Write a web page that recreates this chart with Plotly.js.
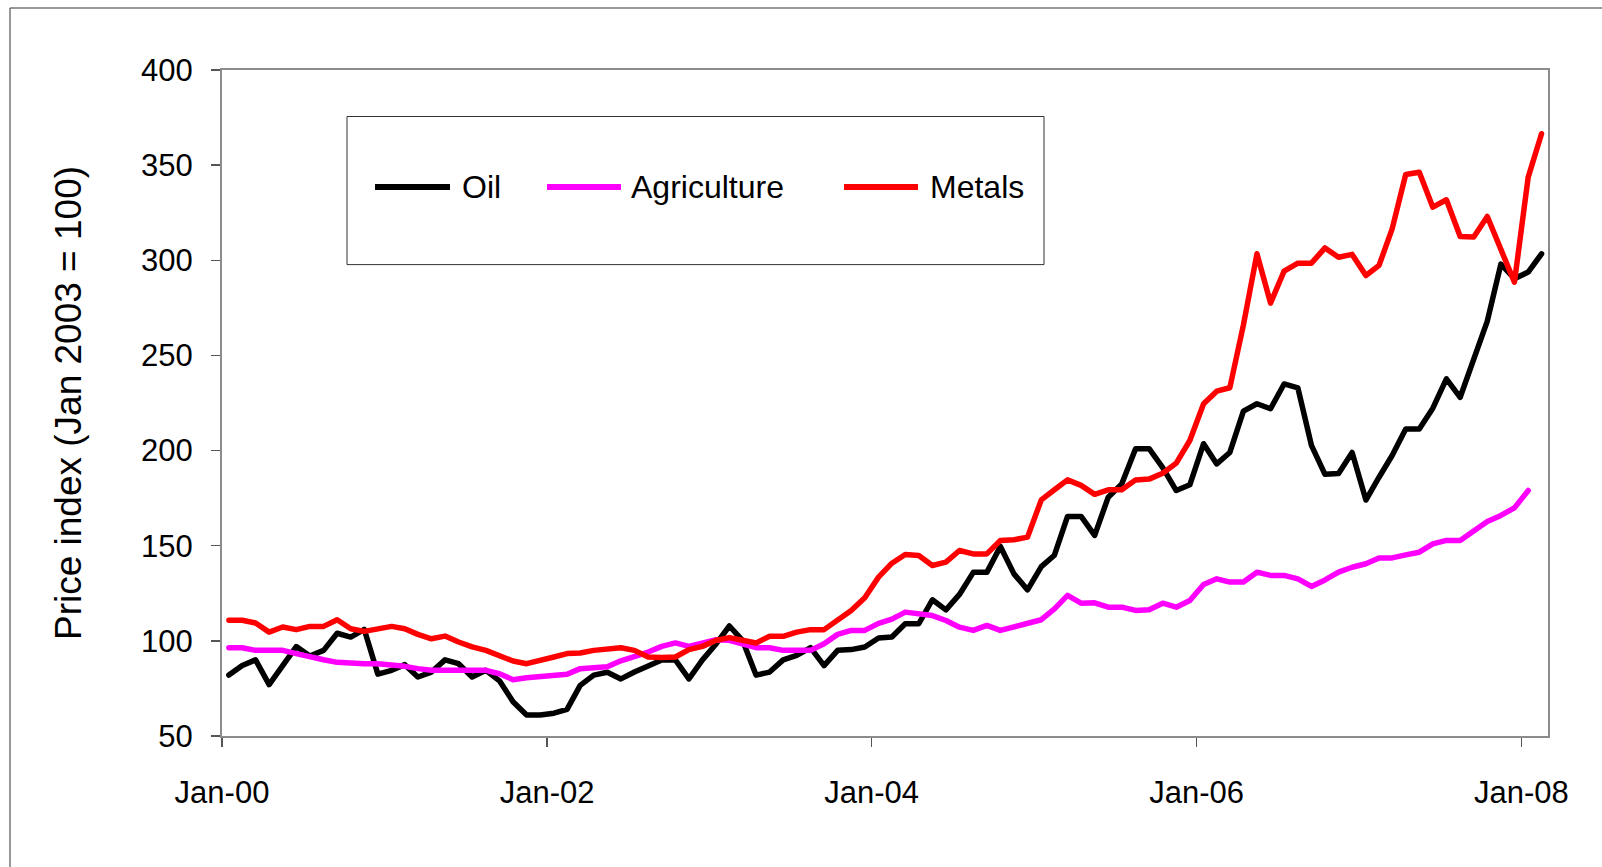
<!DOCTYPE html>
<html>
<head>
<meta charset="utf-8">
<script src="https://cdn.plot.ly/plotly-3.0.1.min.js"></script>
<style>
html,body{margin:0;padding:0;background:#fff;}
#chart{width:1602px;height:867px;}
.scatterlayer path.js-line{stroke-linejoin:round;stroke-linecap:round;}
</style>
</head>
<body>
<div id="chart"></div>
<script>
// Monthly series, Jan-2000 onward (price index, Jan 2003 = 100)
var startYear = 2000;
var seriesNames = ["Oil", "Agriculture", "Metals"];
var seriesColors = ["#000000", "#FF00FF", "#FF0000"];

var oil = [82, 87, 90, 77, 87, 97, 92, 95, 104, 102, 106, 82.5,
  84.5, 87.5, 81, 83.6, 90, 88, 81, 84.5, 79, 68, 61, 61,
  62, 64, 76.6, 82, 83.5, 80, 83.6, 87, 90, 90, 80, 90,
  98.5, 107.8, 100.3, 82, 83.6, 90, 92.4, 96.4, 87, 95, 95.4, 96.8,
  101.5, 102, 109, 109, 121.6, 116.3, 124.4, 136, 136, 149.6, 135.2, 126.8,
  139, 145, 165.4, 165.4, 155.4, 175.5, 182.5, 201, 201, 191, 179, 182,
  203.6, 193, 199, 220.7, 224.6, 222, 235, 233, 202.7, 187.5, 188, 199,
  174, 186, 197.4, 211.4, 211.4, 222.3, 237.7, 228, 249, 268, 298, 290.3,
  293.8, 303.4];

var agriculture = [96.4, 96.4, 95, 95, 95, 93.3, 91.5, 90.1, 88.7, 88, 88, 88,
  87.6, 86.6, 85.4, 84.5, 84.5, 84.5, 84.5, 84.5, 82.7, 79.6, 80.6, 81,
  81.9, 82.4, 85.4, 85.9, 86.4, 89.5, 91.5, 94.1, 97.1, 98.9, 97.1, 98.5,
  100.6, 100.3, 98.5, 96.4, 96.4, 95, 95, 95, 98.5, 103.4, 105.5, 105.5,
  109.2, 111.4, 115.1, 113.9, 113.3, 110.7, 107.2, 105.5, 108.1, 105.5, 107.2, 109.3,
  111.1, 116.8, 123.9, 119.8, 120, 117.7, 117.7, 116, 116.3, 119.8, 117.7, 121.2,
  129.6, 132.6, 130.9, 130.9, 136.1, 134.4, 134.4, 132.6, 128.6, 132, 136.1, 138.7,
  140.5, 143.6, 143.6, 145.2, 146.6, 151, 152.8, 152.8, 157.5, 162.7, 165.9, 169.9,
  179];

var metals = [110.8, 110.8, 109.4, 104.6, 107.3, 105.9, 107.6, 107.6, 111.1, 106.4, 105, 106.4,
  107.6, 106.4, 103.4, 101.1, 102.5, 99.4, 96.8, 95, 92.4, 89.4, 88, 90.1,
  91.5, 93.3, 93.6, 95, 95.4, 96.4, 95, 91.5, 91.2, 91.5, 95.4, 97.1,
  100.3, 101.7, 100.3, 98.9, 102.4, 102.4, 104.6, 105.9, 105.9, 111.1, 116, 122.7,
  133.5, 140.8, 145.4, 144.9, 139.6, 141.4, 147.5, 145.7, 145.7, 152.7, 153.1, 154.5,
  174.1, 179.4, 184.6, 181.7, 177, 179.4, 179.4, 184.6, 185, 188.1, 193.4, 205.3,
  224.6, 231.2, 233, 266, 303.4, 277.5, 294.3, 298.5, 298.5, 306.5, 301.6, 303.1,
  292, 297.3, 316.5, 345.1, 346.3, 327.9, 331.8, 312.5, 312.2, 323, 305.5, 288.5,
  343.7, 366.5];

var tickDates = ["2000-01-01", "2002-01-01", "2004-01-01", "2006-01-01", "2008-01-01"];
var tickLabels = ["Jan-00", "Jan-02", "Jan-04", "Jan-06", "Jan-08"];

// month categories (mid-month positions)
function months(n) {
  var out = [];
  for (var i = 0; i < n; i++) {
    var y = startYear + Math.floor(i / 12), m = i % 12;
    var a = Date.UTC(y, m, 1), b = Date.UTC(y, m + 1, 1);
    out.push(new Date((a + b) / 2).toISOString().slice(0, 19).replace('T', ' '));
  }
  return out;
}

var allSeries = [oil, agriculture, metals];
var traces = allSeries.map(function (vals, k) {
  return {
    type: 'scatter', mode: 'lines', name: seriesNames[k],
    x: months(vals.length), y: vals,
    line: {color: seriesColors[k], width: 5.5},
    showlegend: false, hoverinfo: 'x+y+name'
  };
});

// plot-area pixel geometry helpers for legend placement
var W = 1602, H = 867, L = 222, R = 54, T = 70, B = 131;
var pw = W - L - R, ph = H - T - B;
function px(x) { return (x - L) / pw; }
function py(y) { return (H - B - y) / ph; }

var legendLine = [[375, 450], [547, 621], [844, 918]];
var legendText = [460, 629, 928];
var legendY = 187;

var shapes = [
  // outer frame
  {type: 'rect', xref: 'paper', yref: 'paper', x0: px(10), x1: px(1700), y0: py(1000), y1: py(8),
   line: {color: '#333333', width: 1}, fillcolor: 'rgba(0,0,0,0)', layer: 'below'},
  // legend box
  {type: 'rect', xref: 'paper', yref: 'paper', x0: px(347), x1: px(1044), y0: py(264.6), y1: py(116.5),
   line: {color: '#333333', width: 1}, fillcolor: '#ffffff', layer: 'above'}
];
var annotations = [];
seriesNames.forEach(function (nm, k) {
  shapes.push({type: 'line', xref: 'paper', yref: 'paper',
    x0: px(legendLine[k][0]), x1: px(legendLine[k][1]), y0: py(legendY), y1: py(legendY),
    line: {color: seriesColors[k], width: 6}, layer: 'above'});
  annotations.push({xref: 'paper', yref: 'paper', x: px(legendText[k]), y: py(legendY),
    xanchor: 'left', yanchor: 'middle', text: nm, showarrow: false,
    font: {size: 32, color: '#000'}});
});

var layout = {
  width: W, height: H,
  margin: {l: L, r: R, t: T, b: B, pad: 0},
  paper_bgcolor: '#ffffff', plot_bgcolor: '#ffffff',
  font: {family: '"Liberation Sans", Arial, sans-serif', color: '#000000'},
  showlegend: false,
  xaxis: {
    type: 'date', range: ['2000-01-01', '2008-03-01'],
    tickmode: 'array', tickvals: tickDates, ticktext: tickLabels,
    ticks: 'outside', ticklen: 9, tickwidth: 1.5, tickcolor: '#555555',
    showline: true, linecolor: '#8c8c8c', linewidth: 2, mirror: true,
    showgrid: false, zeroline: false,
    tickfont: {size: 31}, ticklabelstandoff: 19
  },
  yaxis: {
    range: [50, 400], tick0: 50, dtick: 50,
    ticks: 'outside', ticklen: 9, tickwidth: 1.5, tickcolor: '#555555',
    showline: true, linecolor: '#8c8c8c', linewidth: 2, mirror: true,
    showgrid: false, zeroline: false,
    tickfont: {size: 31}, ticklabelstandoff: 12,
    title: {text: 'Price index (Jan 2003 = 100)', font: {size: 37}, standoff: 48}
  },
  shapes: shapes,
  annotations: annotations
};

Plotly.newPlot('chart', traces, layout, {displayModeBar: false, staticPlot: true});
</script>
</body>
</html>
